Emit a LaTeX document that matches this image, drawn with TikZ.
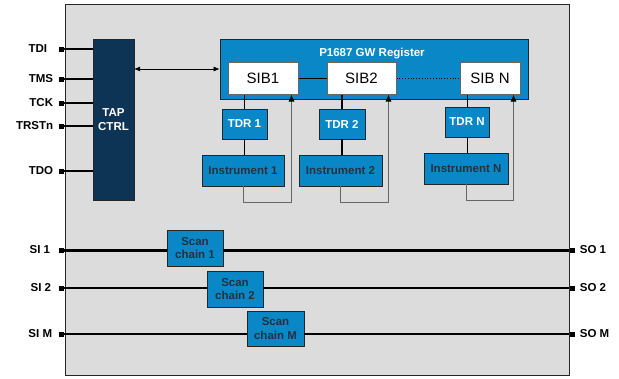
\documentclass[tikz,border=0pt]{standalone}
\usepackage{fontspec}
\setmainfont{Liberation Sans}
\usepackage{xcolor}
\definecolor{chipgray}{HTML}{DCDCDC}
\definecolor{tapnavy}{HTML}{0D3455}
\definecolor{regblue}{HTML}{0A87C6}
\definecolor{darktxt}{HTML}{24323F}
\usepackage{tikz}
\usetikzlibrary{positioning,arrows.meta,calc}

\begin{document}
\begin{tikzpicture}[x=1pt, y=-1pt,
    lbl/.style={font=\bfseries\fontsize{11.5}{13}\selectfont, inner sep=0pt},
    pin/.style={fill=black, minimum size=5pt, inner sep=0pt},
    bluebox/.style={draw=black!85, line width=0.8pt, fill=regblue, inner sep=0pt,
                    align=center, font=\bfseries\fontsize{11.5}{13.5}\selectfont},
    tdrbox/.style={bluebox, text=white, minimum width=45pt, minimum height=30pt},
    insbox/.style={bluebox, text=darktxt, minimum height=31pt},
    scanbox/.style={bluebox, text=darktxt, minimum width=56pt, minimum height=36pt},
    sibbox/.style={draw=black!60, line width=1pt, fill=white, minimum height=32pt,
                   inner sep=0pt, font=\fontsize{15}{17}\selectfont},
    wire/.style={line width=2pt},
    link/.style={line width=0.8pt},
    arr/.style={{Latex[length=6pt,width=5pt]}-{Latex[length=6pt,width=5pt]}, line width=0.6pt},
    back/.style={-{Latex[length=7pt,width=6pt,color=black]}, draw=black!60, line width=0.9pt}]
  \useasboundingbox (0,0) rectangle (619,378);

  % chip outline
  \node[draw=black!85, line width=0.8pt, fill=chipgray, minimum width=504pt,
        minimum height=371pt, inner sep=0pt] (chip) at (317,189.5) {};

  % TAP controller and gateway register
  \node[draw=black!85, fill=tapnavy, text=white, minimum width=41pt, minimum height=161pt,
        inner sep=0pt, align=center, font=\bfseries\fontsize{11.5}{14}\selectfont]
        (tap) at (113.5,119.5) {TAP\\CTRL};
  \node[draw=black!85, line width=0.8pt, fill=regblue, minimum width=308pt,
        minimum height=60pt, inner sep=0pt] (reg) at (374,69) {};
  \node[lbl, text=white] (title) at (372,54) {P1687 GW Register};

  \node[sibbox, minimum width=70pt] (sib1) at (263,78)   {SIB1};
  \node[sibbox, minimum width=69pt] (sib2) at (361.5,78) {SIB2};
  \node[sibbox, minimum width=60pt] (sibn) at (490,78)   {SIB N};

  \node[tdrbox] (tdr1) at (244.5,124) {TDR 1};
  \node[tdrbox, minimum width=46pt] (tdr2) at (342,124) {TDR 2};
  \node[tdrbox, minimum width=44pt] (tdrn) at (467,122) {TDR N};

  \node[insbox, minimum width=82pt] (ins1) at (243,170.5)   {Instrument 1};
  \node[insbox, minimum width=83pt] (ins2) at (340.5,170.5) {Instrument 2};
  \node[insbox, minimum width=84pt] (insn) at (466,168.5)   {Instrument N};

  % JTAG pins
  \node[pin] (tdi)   at (61,49)  {};
  \node[pin] (tms)   at (61,79)  {};
  \node[pin] (tck)   at (61,103) {};
  \node[pin] (trstn) at (61,126) {};
  \node[pin] (tdo)   at (61,171) {};
  \node[lbl, left=11pt of tdi] {TDI};
  \node[lbl, left=5pt of tms]  {TMS};
  \node[lbl, left=5pt of tck]  {TCK};
  \node[lbl, left=5pt of trstn] {TRSTn};
  \node[lbl, left=5pt of tdo]  {TDO};

  \draw[wire, line width=2.6pt] (tdi) -- (tdi -| tap.west);
  \draw[wire] (tms) -- (tms -| tap.west);
  \draw[wire] (tck) -- (tck -| tap.west);
  \draw[wire, line width=1.4pt] (trstn) -- (trstn -| tap.west);
  \draw[wire, line width=2.4pt] (tdo) -- (tdo -| tap.west);

  \draw[arr] (tap.east |- reg.west) -- (reg.west);

  % SIB chain
  \draw[link] (sib1.east) -- (sib2.west);
  \draw[link, dotted] (sib2.east) -- (sibn.west);

  \draw[link] (tdr1) -- (tdr1 |- sib1.south);
  \draw[link] (tdr1) -- (tdr1 |- ins1.north);
  \draw[link, line width=1.8pt] (tdr2.north) -- (tdr2 |- sib2.south);
  \draw[link, line width=1.8pt] (tdr2.south) -- (tdr2 |- ins2.north);
  \draw[link] (tdrn) -- (tdrn |- sibn.south);
  \draw[link] (tdrn) -- (tdrn |- insn.north);

  \draw[back] (ins1.south) -- ++(0,16) -| ([xshift=-7pt]sib1.south east);
  \draw[back] (ins2.south) -- ++(0,16) -| ([xshift=-8pt]sib2.south east);
  \draw[back] (insn.south) -- ++(0,16) -| ([xshift=-7pt]sibn.south east);

  % scan chains
  \node[scanbox] (sc1) at (195,248) {Scan\\chain 1};
  \node[scanbox] (sc2) at (235,289) {Scan\\chain 2};
  \node[scanbox, minimum width=57pt, minimum height=35pt] (scm) at (275.5,328.5) {Scan\\chain M};

  \node[pin] (si1) at (61,250)  {};
  \node[pin] (si2) at (61,288)  {};
  \node[pin] (sim) at (61,334)  {};
  \node[pin] (so1) at (572,250) {};
  \node[pin] (so2) at (572,288) {};
  \node[pin] (som) at (572,334) {};
  \node[lbl, left=8pt of si1] {SI 1};
  \node[lbl, left=7pt of si2] {SI 2};
  \node[lbl, left=6pt of sim] {SI M};
  \node[lbl, right=5pt of so1] {SO 1};
  \node[lbl, right=5pt of so2] {SO 2};
  \node[lbl, right=5pt of som] {SO M};

  \draw[wire, line width=3pt] (si1) -- (si1 -| sc1.west);
  \draw[wire, line width=3pt] (sc1.east |- so1) -- (so1);
  \draw[wire] (si2) -- (si2 -| sc2.west);
  \draw[wire] (sc2.east |- so2) -- (so2);
  \draw[wire, line width=2.4pt] (sim) -- (sim -| scm.west);
  \draw[wire, line width=2.4pt] (scm.east |- som) -- (som);
\end{tikzpicture}
\end{document}
